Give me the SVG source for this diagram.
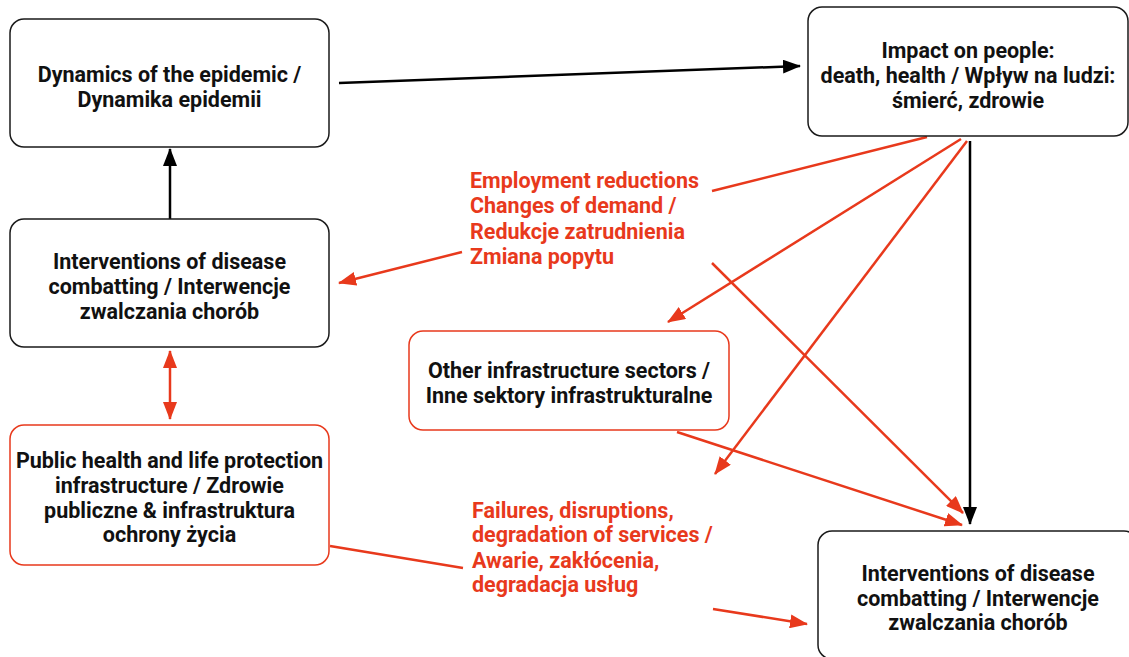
<svg xmlns="http://www.w3.org/2000/svg" width="1129" height="657" viewBox="0 0 1129 657">
<style>
  .box { fill: #ffffff; stroke: #1a1a1a; stroke-width: 1.5; }
  .rbox { fill: #ffffff; stroke: #e8391c; stroke-width: 1.5; }
  .t { font-family: Roboto, "Liberation Sans", sans-serif; font-weight: bold; font-size: 21.5px; fill: #111111; text-anchor: middle; }
  .rt { font-family: Roboto, "Liberation Sans", sans-serif; font-weight: bold; font-size: 21.5px; fill: #e8391c; }
  .k { fill: none; stroke: #000000; stroke-width: 2.5; }
  .r { fill: none; stroke: #e8391c; stroke-width: 2.5; }
</style>
<defs>
  <marker id="ak" markerUnits="userSpaceOnUse" markerWidth="18" markerHeight="14" viewBox="0 0 18 14" refX="17" refY="7" orient="auto">
    <path d="M0,0 L18,7 L0,14 z" fill="#000000"/>
  </marker>
  <marker id="ar" markerUnits="userSpaceOnUse" markerWidth="18" markerHeight="14" viewBox="0 0 18 14" refX="17" refY="7" orient="auto-start-reverse">
    <path d="M0,0 L18,7 L0,14 z" fill="#e8391c"/>
  </marker>
</defs>

<g id="connectors">
  <path class="k" d="M339,83 L800,66" marker-end="url(#ak)"/>
  <path class="k" d="M170,219 L170,149" marker-end="url(#ak)"/>
  <path class="r" d="M170,351 L170,419" marker-start="url(#ar)" marker-end="url(#ar)"/>
  <path class="r" d="M927,137 L712,191 M462,252 L339,283" marker-end="url(#ar)"/>
  <path class="r" d="M961,139 L668,322" marker-end="url(#ar)"/>
  <path class="r" d="M967,141 L715,474" marker-end="url(#ar)"/>
  <path class="r" d="M712,263 L963,513" marker-end="url(#ar)"/>
  <path class="r" d="M677,432 L962,525" marker-end="url(#ar)"/>
  <path class="r" d="M330,546 L463,568 M713,609 L807,624" marker-end="url(#ar)"/>
  <path class="k" d="M970,141 L970,524" marker-end="url(#ak)"/>
</g>

<g id="label-employment">
  <text class="rt" x="470" y="188">Employment reductions</text>
  <text class="rt" x="470" y="213">Changes of demand /</text>
  <text class="rt" x="470" y="239">Redukcje zatrudnienia</text>
  <text class="rt" x="470" y="264">Zmiana popytu</text>
</g>

<g id="label-failures">
  <text class="rt" x="472" y="518">Failures, disruptions,</text>
  <text class="rt" x="472" y="542">degradation of services /</text>
  <text class="rt" x="472" y="568">Awarie, zakłócenia,</text>
  <text class="rt" x="472" y="592">degradacja usług</text>
</g>

<g id="node-dynamics">
  <rect class="box" x="10" y="19" width="319" height="128" rx="14"/>
  <text class="t" x="169.5" y="82">Dynamics of the epidemic /</text>
  <text class="t" x="169.5" y="107">Dynamika epidemii</text>
</g>

<g id="node-impact">
  <rect class="box" x="808" y="7" width="320" height="129" rx="14"/>
  <text class="t" x="968" y="58">Impact on people:</text>
  <text class="t" x="968" y="83">death, health / Wpływ na ludzi:</text>
  <text class="t" x="968" y="108">śmierć, zdrowie</text>
</g>

<g id="node-interventions-left">
  <rect class="box" x="10" y="219" width="319" height="128" rx="14"/>
  <text class="t" x="169.5" y="269">Interventions of disease</text>
  <text class="t" x="169.5" y="294">combatting / Interwencje</text>
  <text class="t" x="169.5" y="319">zwalczania chorób</text>
</g>

<g id="node-public-health">
  <rect class="rbox" x="10" y="425" width="319" height="140" rx="14"/>
  <text class="t" x="169.5" y="468">Public health and life protection</text>
  <text class="t" x="169.5" y="493">infrastructure / Zdrowie</text>
  <text class="t" x="169.5" y="518">publiczne &amp; infrastruktura</text>
  <text class="t" x="169.5" y="542">ochrony życia</text>
</g>

<g id="node-other-infrastructure">
  <rect class="rbox" x="409" y="331" width="320" height="99" rx="14"/>
  <text class="t" x="569" y="378">Other infrastructure sectors /</text>
  <text class="t" x="569" y="403">Inne sektory infrastrukturalne</text>
</g>

<g id="node-interventions-right">
  <rect class="box" x="818" y="531" width="320" height="128" rx="14"/>
  <text class="t" x="978" y="581">Interventions of disease</text>
  <text class="t" x="978" y="606">combatting / Interwencje</text>
  <text class="t" x="978" y="630">zwalczania chorób</text>
</g>
</svg>
